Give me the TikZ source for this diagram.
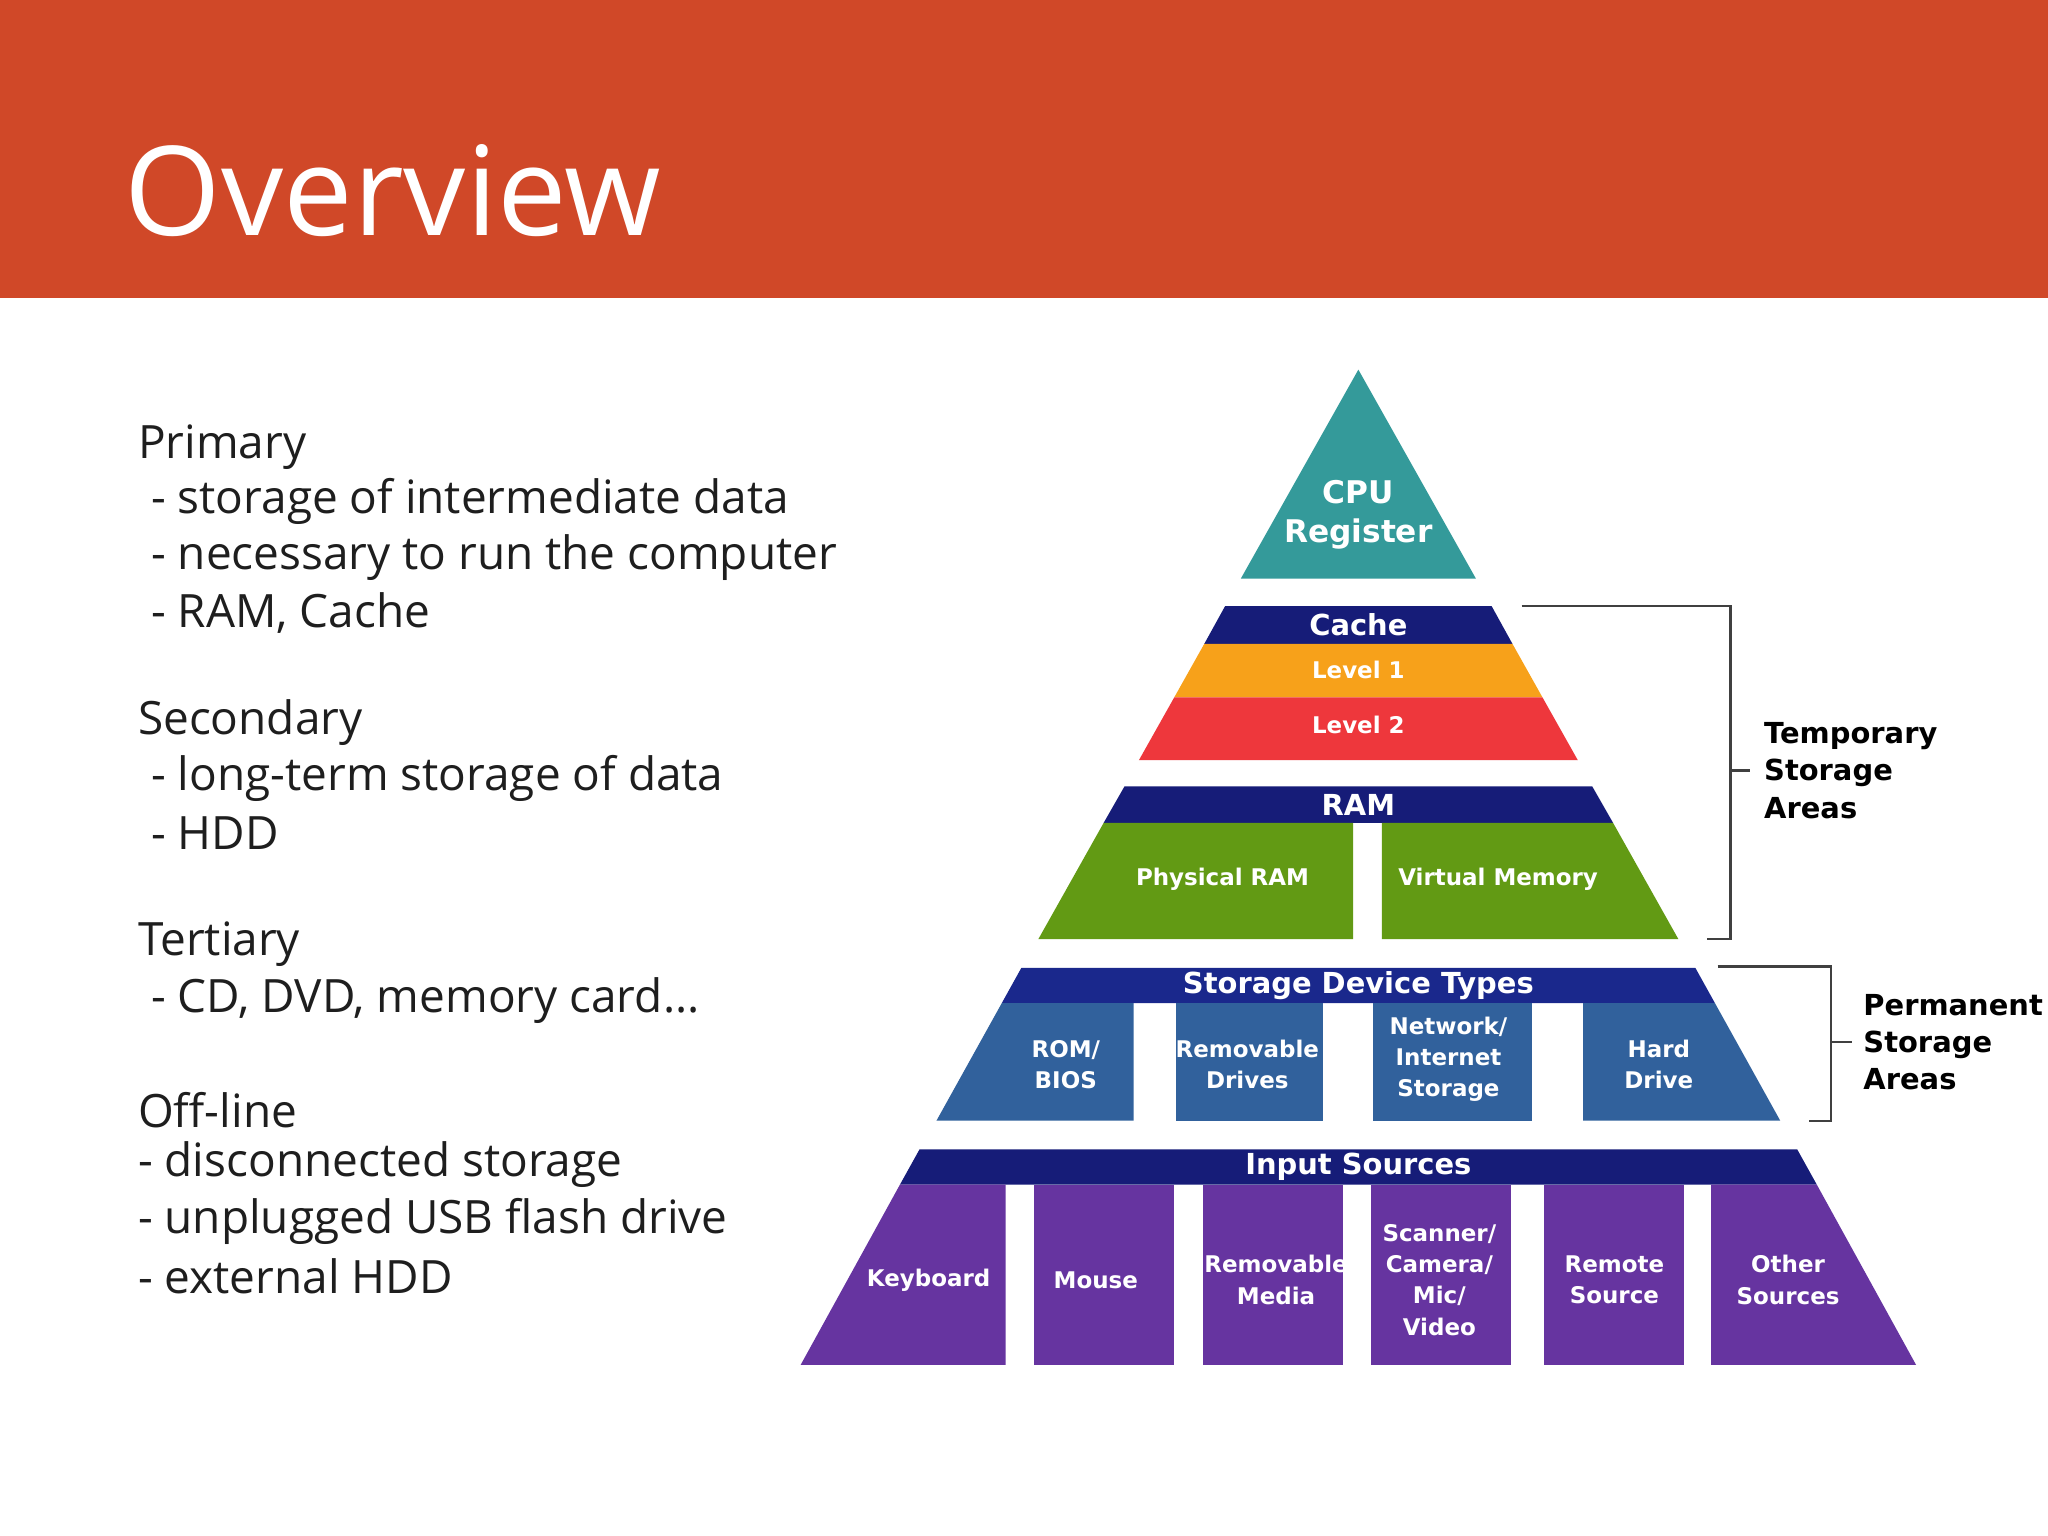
\documentclass[tikz,border=0pt]{standalone}
\usepackage{fontspec}
\setmainfont{Open Sans}
\newfontfamily\pyr{DejaVu Sans}
\definecolor{hdr}{RGB}{208,72,40}
\definecolor{navy}{RGB}{22,28,120}
\definecolor{orng}{RGB}{247,161,26}
\definecolor{redl}{RGB}{238,55,60}
\definecolor{grn}{RGB}{98,154,20}
\definecolor{blu}{RGB}{49,97,156}
\definecolor{blband}{RGB}{26,40,140}
\definecolor{purp}{RGB}{102,52,160}
\definecolor{teal}{RGB}{52,154,154}
\definecolor{txt}{RGB}{30,30,30}
\begin{document}
\begin{tikzpicture}[x=0.01cm,y=-0.01cm,
  lt/.style={anchor=west,font=\fontsize{10}{12}\selectfont,text=txt,inner sep=0},
  pt/.style={font=\pyr\bfseries\fontsize{6.3}{8}\selectfont,text=white,align=center,inner sep=0},
  bt/.style={font=\pyr\bfseries\fontsize{5}{6.8}\selectfont,text=white,align=center,inner sep=0},
  rt/.style={font=\pyr\bfseries\fontsize{6.3}{8.1}\selectfont,text=black,align=left,anchor=west,inner sep=0},
  br/.style={line width=0.5pt,black!75}]
\useasboundingbox (0,0) rectangle (1568,1176);
\fill[white] (0,0) rectangle (1568,1176);
\fill[hdr] (0,0) rectangle (1568,228);
\node[anchor=base west,inner sep=0,text=white,font=\fontsize{27}{30}\selectfont] (title) at (95,180) {Overview};
% left text
\node[lt] (p0) at (105,342) {Primary};
\node[lt] (p1) at (115,384) {- storage of intermediate data};
\node[lt] (p2) at (115,427) {- necessary to run the computer};
\node[lt] (p3) at (115,469) {- RAM, Cache};
\node[lt] (s0) at (105,553) {Secondary};
\node[lt] (s1) at (115,596) {- long-term storage of data};
\node[lt] (s2) at (115,638) {- HDD};
\node[lt] (t0) at (105,723) {Tertiary};
\node[lt] (t1) at (115,766) {- CD, DVD, memory card...};
\node[lt] (o0) at (105,850) {Off-line};
\node[lt] (o1) at (105,892) {- disconnected storage};
\node[lt] (o2) at (105,935) {- unplugged USB flash drive};
\node[lt] (o3) at (105,977) {- external HDD};
% CPU
\fill[teal] (1040,283) -- (1130,443) -- (950,443) -- cycle;
\node[pt,font=\pyr\bfseries\fontsize{6.8}{8.4}\selectfont] (cpu) at (1040,394) {CPU\\Register};
% Cache
\fill[navy] (938,464) -- (1142,464) -- (1158,493) -- (922,493) -- cycle;
\fill[orng] (922,493) -- (1158,493) -- (1181,534) -- (899,534) -- cycle;
\fill[redl] (899,534) -- (1181,534) -- (1208,582) -- (872,582) -- cycle;
\node[pt] (cache) at (1040,478) {Cache};
\node[bt] (l1) at (1040,513) {Level 1};
\node[bt] (l2) at (1040,555) {Level 2};
% RAM
\fill[navy] (861,602) -- (1219,602) -- (1235,630) -- (845,630) -- cycle;
\fill[grn] (845,630) -- (1036,630) -- (1036,719) -- (795,719) -- cycle;
\fill[grn] (1058,630) -- (1235,630) -- (1285,719) -- (1058,719) -- cycle;
\node[pt] (ram) at (1040,616) {RAM};
\node[bt] (pram) at (936,673) {Physical RAM};
\node[bt] (vmem) at (1147,673) {Virtual Memory};
% Storage
\fill[blband] (782,741) -- (1298,741) -- (1313,768) -- (767,768) -- cycle;
\fill[blu] (767,768) -- (868,768) -- (868,858) -- (717,858) -- cycle;
\fill[blu] (900,768) rectangle (1013,858);
\fill[blu] (1051,768) rectangle (1173,858);
\fill[blu] (1212,768) -- (1313,768) -- (1363,858) -- (1212,858) -- cycle;
\node[pt] (sdt) at (1040,755) {Storage Device Types};
\node[bt] (rom) at (816,815) {ROM/\\BIOS};
\node[bt] (rd) at (955,815) {Removable\\Drives};
\node[bt] (nis) at (1109,811) {Network/\\Internet\\Storage};
\node[bt] (hd) at (1270,815) {Hard\\Drive};
% Input
\fill[navy] (704,880) -- (1376,880) -- (1391,907) -- (689,907) -- cycle;
\fill[purp] (689,907) -- (770,907) -- (770,1045) -- (613,1045) -- cycle;
\fill[purp] (792,907) rectangle (899,1045);
\fill[purp] (921,907) rectangle (1028,1045);
\fill[purp] (1050,907) rectangle (1157,1045);
\fill[purp] (1182,907) rectangle (1289,1045);
\fill[purp] (1310,907) -- (1391,907) -- (1467,1045) -- (1310,1045) -- cycle;
\node[pt] (ins) at (1040,893) {Input Sources};
\node[bt] (kb) at (711,980) {Keyboard};
\node[bt] (ms) at (839,980) {Mouse};
\node[bt] (rm) at (977,980) {Removable\\Media};
\node[bt] (scm) at (1102,980) {Scanner/\\Camera/\\Mic/\\Video};
\node[bt] (rs) at (1236,980) {Remote\\Source};
\node[bt] (os) at (1369,980) {Other\\Sources};
% brackets
\coordinate (ta) at (1165,464);
\coordinate (tb) at (1307,719);
\draw[br] (ta) -- (1325,464) -- (1325,719) -- (tb);
\draw[br] (1325,590) -- (1340,590);
\node[rt] (tsa) at (1350,590) {Temporary\\Storage\\Areas};
\coordinate (pa) at (1315,740);
\coordinate (pb) at (1385,858);
\draw[br] (pa) -- (1402,740) -- (1402,858) -- (pb);
\draw[br] (1402,798) -- (1418,798);
\node[rt] (psa) at (1426,798) {Permanent\\Storage\\Areas};
\end{tikzpicture}
\end{document}
